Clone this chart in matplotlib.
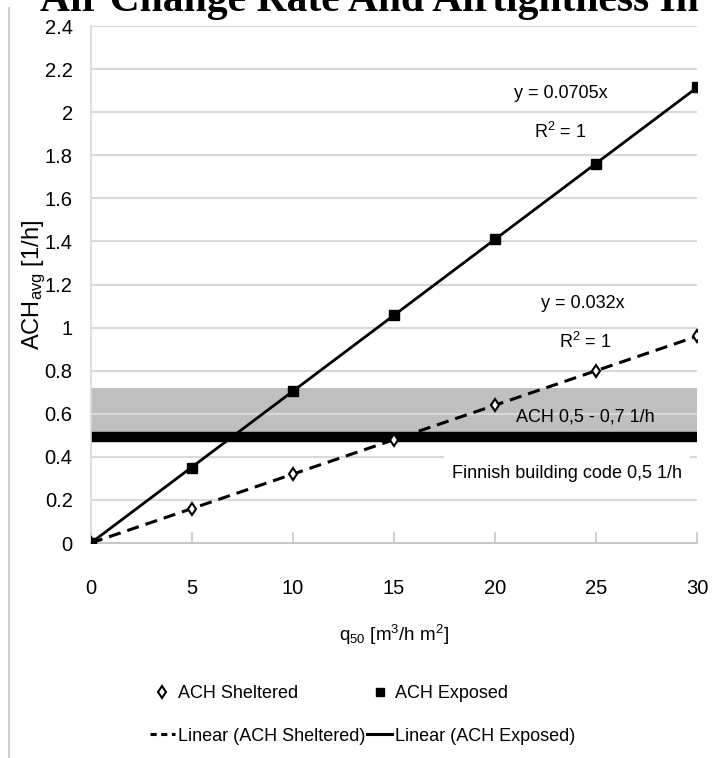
import numpy as np
import matplotlib
matplotlib.use('Agg')
import matplotlib.pyplot as plt
from matplotlib.lines import Line2D

# data
q50 = [0, 5, 10, 15, 20, 25, 30]
ach_exposed = [0, 0.35, 0.705, 1.06, 1.41, 1.76, 2.115]
ach_sheltered = [0, 0.16, 0.32, 0.48, 0.64, 0.80, 0.96]
slope_exposed = 0.0705
slope_sheltered = 0.032
band_low, band_high = 0.5, 0.72
code_level = 0.49
yticks = [0, 0.2, 0.4, 0.6, 0.8, 1, 1.2, 1.4, 1.6, 1.8, 2, 2.2, 2.4]
ytick_labels = ['0', '0.2', '0.4', '0.6', '0.8', '1', '1.2', '1.4', '1.6', '1.8', '2', '2.2', '2.4']
xticks = [0, 5, 10, 15, 20, 25, 30]

plt.rcParams['font.family'] = ['Liberation Sans', 'DejaVu Sans']
plt.rcParams['mathtext.fontset'] = 'custom'
plt.rcParams['mathtext.rm'] = 'Liberation Sans'
plt.rcParams['mathtext.it'] = 'Liberation Sans'

fig = plt.figure(figsize=(7.15, 7.58), dpi=100)
ax = fig.add_axes([0.127, 0.2836, 0.848, 0.682])

# shaded band and code level
ax.axhspan(band_low, band_high, color='#bfbfbf', zorder=0.2, lw=0)
ax.axhline(code_level, color='black', lw=7.5, zorder=1.5)

# trend lines
xfit = np.array([q50[0], q50[-1]])
ax.plot(xfit, slope_sheltered * xfit, color='black', lw=2.2, ls=(0, (4, 2.3)), zorder=3)
ax.plot(xfit, slope_exposed * xfit, color='black', lw=2.0, zorder=3)

# markers
ax.plot(q50, ach_sheltered, ls='none', marker='d', ms=6, mfc='white', mec='black', mew=1.5, zorder=4)
ax.plot(q50, ach_exposed, ls='none', marker='s', ms=7, mfc='black', mec='black', zorder=4)

ax.set_xlim(0, 30)
ax.set_ylim(0, 2.4)
ax.set_yticks(yticks)
ax.set_yticklabels(ytick_labels)
ax.set_xticks(xticks)
ax.set_axisbelow(True)
ax.yaxis.grid(True, color='#d9d9d9', lw=1.5)
for s in ['top', 'right']:
    ax.spines[s].set_visible(False)
ax.spines['left'].set_color('#d9d9d9')
ax.spines['bottom'].set_color('#c8c8c8')
ax.spines['left'].set_linewidth(1.2)
ax.spines['bottom'].set_linewidth(1.5)
ax.tick_params(axis='y', length=0, pad=13, labelsize=14.5)
ax.tick_params(axis='x', direction='in', length=8, width=1.2, color='#c8c8c8', pad=26, labelsize=14.5)

ax.set_xlabel('q$_{50}$ [m$^3$/h m$^2$]', fontsize=13.5)
ax.xaxis.set_label_coords(0.5, -0.178)
ax.xaxis.label.set_va('center')
ax.set_ylabel('ACH$_{avg}$ [1/h]', fontsize=17)
ax.yaxis.set_label_coords(-0.094, 0.5)
ax.yaxis.label.set_va('center')

# annotations
fs = 13
ax.text(23.27, 2.088, 'y = 0.0705x', fontsize=fs, ha='center', va='center')
ax.text(23.2, 1.907, 'R$^2$ = 1', fontsize=fs, ha='center', va='center')
ax.text(24.36, 1.114, 'y = 0.032x', fontsize=fs, ha='center', va='center')
ax.text(24.46, 0.933, 'R$^2$ = 1', fontsize=fs, ha='center', va='center')
ax.text(24.46, 0.585, 'ACH 0,5 - 0,7 1/h', fontsize=fs, ha='center', va='center', zorder=5)
ax.text(23.56, 0.325, 'Finnish building code 0,5 1/h', fontsize=fs, ha='center', va='center',
        bbox=dict(fc='white', ec='none', pad=6), zorder=2)

# legend
handles = [
    Line2D([], [], ls='none', marker='d', ms=6, mfc='white', mec='black', mew=1.5),
    Line2D([], [], color='black', lw=2.2, ls=(0, (2, 1.5))),
    Line2D([], [], ls='none', marker='s', ms=6, mfc='black', mec='black'),
    Line2D([], [], color='black', lw=2.2),
]
labels = ['ACH Sheltered', 'Linear (ACH Sheltered)', 'ACH Exposed', 'Linear (ACH Exposed)']
fig.legend(handles, labels, loc='center', bbox_to_anchor=(0.507, 0.0567), ncol=2,
           frameon=False, fontsize=13, handlelength=1.4, handletextpad=0.15,
           columnspacing=0.1, labelspacing=1.4)

# cropped title at the top and chart border line
fig.text(40 / 715, 1 - 11 / 758, 'Air Change Rate And Airtightness In', fontsize=30,
         fontweight='bold', family=['Liberation Serif', 'DejaVu Serif'], va='baseline', ha='left')
fig.add_artist(Line2D([9 / 715, 9 / 715], [0, 1 - 8 / 758], color='#d0d0d0', lw=1.5))

plt.savefig('out.png', dpi=100)
